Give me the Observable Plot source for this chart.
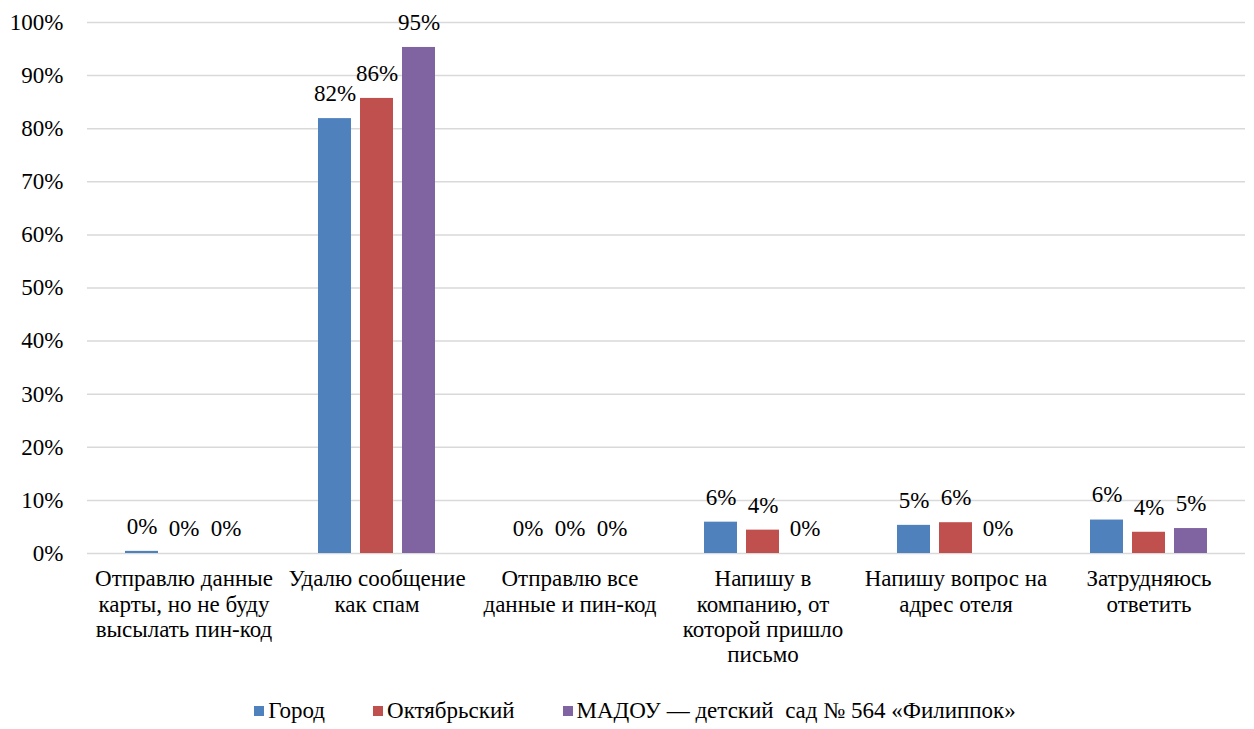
<!DOCTYPE html>
<html>
<head>
<meta charset="utf-8">
<script src="https://cdn.jsdelivr.net/npm/d3@7"></script>
<script src="https://cdn.jsdelivr.net/npm/@observablehq/plot@0.6"></script>
<style>
  body { margin: 0; background: #fff; font-family: "Liberation Serif", "Tinos", "Times New Roman", "DejaVu Serif", serif; }
  #legend { display: flex; justify-content: center; align-items: center; gap: 48px; font-size: 23px; color: #000; height: 36px; margin-left: 16px; }
  #legend .item { display: flex; align-items: center; gap: 4px; }
  #legend .sw { width: 10px; height: 10px; display: inline-block; }
</style>
</head>
<body>
<div id="chart"></div>
<div id="legend"></div>
<script>
const categories = [
  "Отправлю данные\nкарты, но не буду\nвысылать пин-код",
  "Удалю сообщение\nкак спам",
  "Отправлю все\nданные и пин-код",
  "Напишу в\nкомпанию, от\nкоторой пришло\nписьмо",
  "Напишу вопрос на\nадрес отеля",
  "Затрудняюсь\nответить"
];
const seriesNames = ["Город", "Октябрьский", "МАДОУ — детский  сад № 564 «Филиппок»"];
const gorod = [0.004, 0.819, 0, 0.059, 0.053, 0.063];
const oktyabrsky = [0, 0.857, 0, 0.044, 0.058, 0.040];
const madou = [0, 0.953, 0, 0, 0, 0.047];
const colors = ["#4f81bd", "#c0504d", "#8064a2"];
const yTicks = [0, 0.1, 0.2, 0.3, 0.4, 0.5, 0.6, 0.7, 0.8, 0.9, 1.0];

const seriesValues = [gorod, oktyabrsky, madou];
const data = [];
categories.forEach((c, i) => {
  seriesNames.forEach((s, j) => {
    data.push({category: c, series: s, value: seriesValues[j][i]});
  });
});

const font = "'Liberation Serif', 'Tinos', 'Times New Roman', 'DejaVu Serif', serif";

const chart = Plot.plot({
  width: 1254,
  height: 693,
  marginTop: 22,
  marginLeft: 87,
  marginRight: 9,
  marginBottom: 140,
  style: {fontFamily: font, fontSize: "23px", color: "#000", background: "#fff"},
  fx: {domain: categories, padding: 0, label: null, axis: null},
  x: {domain: seriesNames, paddingInner: 0.21, paddingOuter: 0.85, axis: null},
  y: {domain: [0, 1], label: null},
  color: {domain: seriesNames, range: colors},
  marks: [
    Plot.ruleY(yTicks, {stroke: "#d9d9d9", strokeWidth: 1.5}),
    Plot.barY(data, {fx: "category", x: "series", y: "value", fill: "series"}),
    Plot.text(data, {
      fx: "category", x: "series", y: "value",
      text: d => Math.round(d.value * 100) + "%",
      dy: -25, fontSize: 23, fill: "#000", fontFamily: font
    }),
    Plot.axisY(yTicks, {tickSize: 0, tickPadding: 24, tickFormat: d => Math.round(d * 100) + "%", fontSize: 23, fill: "#000", fontFamily: font}),
    Plot.axisFx({anchor: "bottom", tickSize: 0, tickPadding: 15, fontSize: 23, fill: "#000", lineHeight: 1.1, label: null, fontFamily: font})
  ]
});
document.getElementById("chart").appendChild(chart);

const legend = document.getElementById("legend");
seriesNames.forEach((s, j) => {
  const item = document.createElement("div");
  item.className = "item";
  const sw = document.createElement("span");
  sw.className = "sw";
  sw.style.background = colors[j];
  const t = document.createElement("span");
  t.textContent = s;
  t.style.whiteSpace = "pre";
  item.appendChild(sw);
  item.appendChild(t);
  legend.appendChild(item);
});
</script>
</body>
</html>
